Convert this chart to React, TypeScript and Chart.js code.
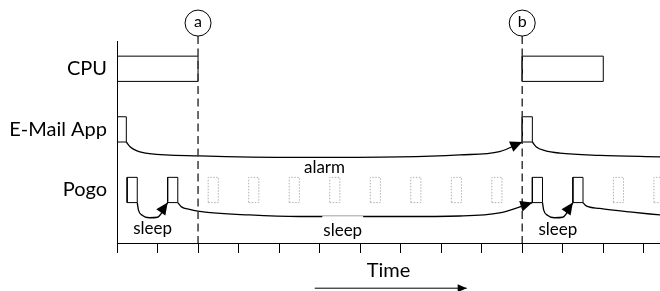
import React, { useEffect, useRef } from "react";
import { Chart, registerables } from "chart.js";

Chart.register(...registerables);

// ---- data (x in tick units of time, y in row units) ----
const rowLabels = ["CPU", "E-Mail App", "Pogo"];
const rowCenters = [6.9, 4.5, 2.1];
const boxHalf = 0.5;

const markerLabels = ["a", "b"];
const markerTimes = [2, 10];
const markerY = 8.71;
const markerRadius = 13;
const dashTop = 8.2;

const cpuStart = [0, 10];
const cpuEnd = [2, 12];
const emailStart = [0, 10];
const emailEnd = [0.23, 10.25];
const pogoActiveSlots = [0, 1, 10, 11];
const pogoSkippedSlots = [2, 3, 4, 5, 6, 7, 8, 9, 12, 13];
const pogoBoxStart = 0.25;
const pogoBoxEnd = 0.5;

const alarmX = [0.23, 0.33, 0.48, 0.8, 2.04, 4.5, 6.98, 8.46, 9.44, 10];
const alarmY = [4.0, 3.8, 3.66, 3.54, 3.45, 3.39, 3.41, 3.49, 3.62, 4.0];
const emailTailX = [10.25, 10.35, 10.56, 10.93, 11.91, 13.4];
const emailTailY = [4.0, 3.8, 3.66, 3.56, 3.47, 3.41];

const sleepLongX = [1.5, 1.59, 1.79, 2.04, 3.27, 4.5, 6.98, 8.46, 9.44, 10.25];
const sleepLongY = [1.6, 1.43, 1.33, 1.25, 1.11, 1.05, 1.05, 1.07, 1.19, 1.6];
const sleepShortAX = [0.5, 0.53, 0.62, 0.8, 1.0, 1.25];
const sleepShortAY = [1.6, 1.3, 1.1, 1.0, 1.02, 1.6];
const sleepShortBX = [10.5, 10.53, 10.62, 10.8, 11.0, 11.25];
const sleepShortBY = [1.6, 1.3, 1.1, 1.0, 1.02, 1.6];
const pogoTailX = [11.5, 11.58, 11.91, 12.65, 13.4];
const pogoTailY = [1.6, 1.47, 1.37, 1.23, 1.11];

const noteTexts = ["alarm", "sleep", "sleep", "sleep"];
const noteX = [5.12, 0.88, 5.57, 10.88];
const noteY = [2.99, 0.57, 0.51, 0.55];
const noteMasked = [false, false, true, false];

const timeArrowX = [4.88, 8.63];
const timeArrowY = -1.79;

const FONT = "Lato, 'DejaVu Sans', sans-serif";

function pts(xs: number[], ys: number[]) {
  return xs.map((x, i) => ({ x, y: ys[i] }));
}
function rect(x0: number, x1: number, yc: number) {
  return [
    { x: x0, y: yc - boxHalf },
    { x: x1, y: yc - boxHalf },
    { x: x1, y: yc + boxHalf },
    { x: x0, y: yc + boxHalf },
    { x: x0, y: yc - boxHalf },
  ];
}

const arrowPlugin = {
  id: "arrowHeads",
  afterDatasetsDraw(chart: any) {
    const ctx = chart.ctx;
    chart.data.datasets.forEach((ds: any, i: number) => {
      if (!ds.arrow) return;
      const meta = chart.getDatasetMeta(i);
      const n = meta.data.length;
      const p = meta.data[n - 1];
      const q = meta.data[n - 2];
      let dx = p.x - (p.cp1x ?? q.x);
      let dy = p.y - (p.cp1y ?? q.y);
      if (Math.abs(dx) + Math.abs(dy) < 0.01) {
        dx = p.x - q.x;
        dy = p.y - q.y;
      }
      const len = Math.hypot(dx, dy);
      const ux = dx / len, uy = dy / len;
      const L = ds.arrowLength, W = ds.arrowWidth;
      const bx = p.x - ux * L, by = p.y - uy * L;
      ctx.save();
      ctx.fillStyle = "#000";
      ctx.beginPath();
      ctx.moveTo(p.x, p.y);
      ctx.lineTo(bx - uy * W, by + ux * W);
      ctx.lineTo(bx + uy * W, by - ux * W);
      ctx.closePath();
      ctx.fill();
      ctx.restore();
    });
  },
};

const textPlugin = {
  id: "texts",
  afterDatasetsDraw(chart: any) {
    const ctx = chart.ctx;
    const xs = chart.scales.x, ys = chart.scales.y;
    ctx.save();
    ctx.textAlign = "center";
    ctx.textBaseline = "middle";
    // notes on curves
    ctx.font = `17px ${FONT}`;
    noteTexts.forEach((t, i) => {
      const px = xs.getPixelForValue(noteX[i]);
      const py = ys.getPixelForValue(noteY[i]);
      if (noteMasked[i]) {
        const w = ctx.measureText(t).width;
        ctx.fillStyle = "#fff";
        ctx.fillRect(px - w / 2 - 1, py - 14, w + 2, 26);
      }
      ctx.fillStyle = "#000";
      ctx.fillText(t, px, py);
    });
    // marker circles and letters
    ctx.font = `16px ${FONT}`;
    markerLabels.forEach((t, i) => {
      const px = xs.getPixelForValue(markerTimes[i]);
      const py = ys.getPixelForValue(markerY);
      ctx.beginPath();
      ctx.arc(px, py, markerRadius, 0, Math.PI * 2);
      ctx.fillStyle = "#fff";
      ctx.fill();
      ctx.lineWidth = 1;
      ctx.strokeStyle = "#000";
      ctx.stroke();
      ctx.fillStyle = "#000";
      ctx.fillText(t, px, py - 1);
    });
    ctx.restore();
  },
};

export default function App() {
  const ref = useRef<HTMLCanvasElement>(null);
  useEffect(() => {
    document.body.style.margin = "0";
    const datasets: any[] = [];
    const line = (data: any[], extra: any = {}) =>
      datasets.push({
        data,
        showLine: true,
        borderColor: "#000",
        borderWidth: 1,
        pointRadius: 0,
        pointHoverRadius: 0,
        tension: 0,
        fill: false,
        ...extra,
      });

    // dashed marker lines
    markerTimes.forEach((t) =>
      line(
        [
          { x: t, y: dashTop },
          { x: t, y: 0 },
        ],
        { borderColor: "#3a3a3a", borderWidth: 1.5, borderDash: [8, 4.5], clip: false }
      )
    );
    // CPU bursts
    cpuStart.forEach((s, i) => line(rect(s, cpuEnd[i], rowCenters[0])));
    // E-mail app bursts
    emailStart.forEach((s, i) => line(rect(s, emailEnd[i], rowCenters[1])));
    // Pogo active and skipped wake-ups
    pogoActiveSlots.forEach((s) => line(rect(s + pogoBoxStart, s + pogoBoxEnd, rowCenters[2])));
    pogoSkippedSlots.forEach((s) =>
      line(rect(s + pogoBoxStart, s + pogoBoxEnd, rowCenters[2]), {
        borderColor: "#b0b0b0",
        borderDash: [1.5, 1.5],
      })
    );
    // curves
    const curve = { cubicInterpolationMode: "monotone", borderWidth: 1.3, clip: false };
    line(pts(alarmX, alarmY), { ...curve, arrow: true, arrowLength: 12, arrowWidth: 5.5 });
    line(pts(emailTailX, emailTailY), curve);
    line(pts(sleepLongX, sleepLongY), { ...curve, arrow: true, arrowLength: 12, arrowWidth: 5.5 });
    line(pts(sleepShortAX, sleepShortAY), { ...curve, arrow: true, arrowLength: 12, arrowWidth: 5.5 });
    line(pts(sleepShortBX, sleepShortBY), { ...curve, arrow: true, arrowLength: 12, arrowWidth: 5.5 });
    line(pts(pogoTailX, pogoTailY), curve);
    // time arrow
    line(
      [
        { x: timeArrowX[0], y: timeArrowY },
        { x: timeArrowX[1], y: timeArrowY },
      ],
      { clip: false, arrow: true, arrowLength: 9, arrowWidth: 4 }
    );

    const chart = new Chart(ref.current!, {
      type: "scatter",
      data: { datasets },
      options: {
        animation: false,
        responsive: false,
        events: [],
        layout: { autoPadding: false, padding: { top: 41, left: 0, right: 0, bottom: 0 } },
        plugins: { legend: { display: false }, tooltip: { enabled: false } },
        scales: {
          x: {
            type: "linear",
            min: 0,
            max: 13.4,
            afterFit: (s: any) => {
              s.height = 48;
            },
            ticks: { stepSize: 1, includeBounds: false, callback: () => "", font: { size: 1 } },
            grid: { drawOnChartArea: false, color: "#000", tickLength: 10, lineWidth: 1 },
            border: { display: true, color: "#000", width: 1 },
            title: {
              display: true,
              text: "Time",
              color: "#000",
              font: { family: FONT, size: 20 },
              padding: { top: 0, bottom: 8 },
            },
          },
          y: {
            type: "linear",
            min: 0,
            max: 8,
            afterFit: (s: any) => {
              s.width = 117;
            },
            afterBuildTicks: (s: any) => {
              s.ticks = rowCenters.map((v) => ({ value: v }));
            },
            ticks: {
              color: "#000",
              padding: 10,
              font: { family: FONT, size: 20 },
              callback: (v: any) => rowLabels[rowCenters.indexOf(Number(v))] ?? "",
            },
            grid: { drawOnChartArea: false, drawTicks: false },
            border: { display: true, color: "#000", width: 1 },
          },
        },
      },
      plugins: [arrowPlugin, textPlugin],
    });
    return () => chart.destroy();
  }, []);
  return (
    <div style={{ width: 660, height: 291 }}>
      <canvas ref={ref} width={660} height={291} style={{ display: "block" }} />
    </div>
  );
}
